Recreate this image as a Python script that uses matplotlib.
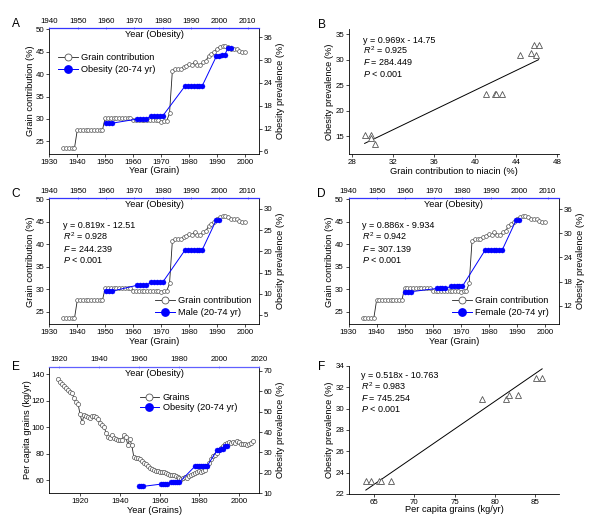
import matplotlib
matplotlib.use('Agg')
import matplotlib.pyplot as plt
from matplotlib.lines import Line2D

plt.rcParams['font.family'] = ['Liberation Sans', 'DejaVu Sans']
plt.rcParams['mathtext.fontset'] = 'custom'
plt.rcParams['mathtext.rm'] = 'Liberation Sans'
plt.rcParams['mathtext.it'] = 'Liberation Sans:italic'
plt.rcParams['axes.linewidth'] = 0.6

# ---------------- data ----------------
grain_years = list(range(1935, 2001))
grain_contrib = [23.5, 23.5, 23.5, 23.5, 23.5,
                 27.5, 27.5, 27.5, 27.5, 27.5, 27.5, 27.5, 27.5, 27.5, 27.5,
                 30.3, 30.3, 30.3, 30.3, 30.3, 30.3, 30.3, 30.3, 30.3, 30.3,
                 29.7, 29.7, 29.7, 29.7, 29.7, 29.7, 29.7, 29.7, 29.7, 29.7,
                 29.4, 29.6, 29.6, 31.3,
                 40.6, 41.1, 41.2, 41.1, 41.5, 41.8, 42.2, 42.0, 42.8, 42.1, 42.0, 42.6, 43.0,
                 44.0, 44.5, 45.0, 45.7, 46.0, 46.2, 46.3, 46.0, 45.6, 45.7, 45.6, 45.2, 45.0, 44.9]

ob_years = [1960, 1961, 1962, 1971, 1972, 1973, 1974, 1976, 1977, 1978, 1979, 1980,
            1988, 1989, 1990, 1991, 1992, 1993, 1994, 1999, 2000, 2001, 2002, 2003, 2004]
ob_total = [13.4, 13.4, 13.4, 14.5, 14.5, 14.5, 14.5, 15.3, 15.3, 15.3, 15.3, 15.3,
            23.3, 23.3, 23.3, 23.3, 23.3, 23.3, 23.3, 31.1, 31.1, 31.5, 31.5, 33.2, 33.2]

sex_years = [1960, 1961, 1962, 1971, 1972, 1973, 1974, 1976, 1977, 1978, 1979, 1980,
             1988, 1989, 1990, 1991, 1992, 1993, 1994, 1999, 2000]
ob_male = [10.6, 10.6, 10.6, 12.0, 12.0, 12.0, 12.0, 12.7, 12.7, 12.7, 12.7, 12.7,
           20.4, 20.4, 20.4, 20.4, 20.4, 20.4, 20.4, 27.5, 27.5]
ob_female = [15.5, 15.5, 15.5, 16.3, 16.3, 16.3, 16.3, 16.8, 16.8, 16.8, 16.8, 16.8,
             25.8, 25.8, 25.8, 25.8, 25.8, 25.8, 25.8, 33.4, 33.4]

percap_years = list(range(1909, 2008))
percap_grains = [136.2, 134.4, 133.0, 131.4, 130.0, 128.0, 126.4, 125.6, 121.8, 118.8,
                 117.3, 109.7, 103.6, 109.2, 108.4, 108.0, 107.2, 108.4, 108.7, 107.7,
                 106.0, 103.0, 101.6, 100.4, 96.0, 92.8, 92.0, 94.0, 92.0, 91.0,
                 90.5, 90.0, 90.3, 94.0, 92.8, 86.5, 91.0, 86.5, 77.6, 76.9,
                 76.4, 75.6, 74.3, 73.3, 72.0, 70.6, 69.5, 68.3, 67.5, 67.0,
                 66.8, 66.3, 66.0, 65.8, 65.3, 64.7, 64.2, 64.0, 63.7, 63.2,
                 62.5, 61.7, 60.7, 61.7, 62.2, 61.7, 62.8, 63.5, 64.5, 65.2,
                 65.8, 66.5, 66.3, 66.5, 67.5, 70.5, 73.0, 76.0, 78.0, 79.0,
                 80.8, 82.5, 84.5, 85.8, 87.0, 88.0, 88.5, 88.0, 88.5, 87.7,
                 89.7, 88.5, 87.5, 87.2, 87.0, 86.8, 87.2, 88.2, 89.5]

b_x = [29.2, 29.8, 29.8, 30.25, 41.1, 41.9, 42.05, 42.6, 44.4, 45.5, 45.8, 45.95, 46.2]
b_y = [15.1, 15.1, 14.7, 13.5, 23.2, 23.2, 23.2, 23.2, 30.9, 31.3, 32.9, 31.0, 32.9]
b_coef = (0.969, -14.75)

f_x = [63.96, 64.6, 65.6, 65.8, 67.15, 78.4, 81.35, 81.8, 82.9, 85.1, 85.9]
f_y = [23.2, 23.2, 23.2, 23.2, 23.2, 30.9, 30.9, 31.25, 31.3, 32.9, 32.9]
f_coef = (0.518, -10.763)

# ---------------- style ----------------
W, H = 600, 528
fig = plt.figure(figsize=(6, 5.28), dpi=100)

TICK = 5.7
LAB = 6.7
EQ = 6.5
GREY = '#555555'
LINEG = '#222222'
BLUE = '#0000ff'


def px_rect(l, t, r, b):
    return [l / W, 1 - b / H, (r - l) / W, (b - t) / H]


def ticks(ax, which, **kw):
    base = dict(labelsize=TICK, length=2, width=0.5, pad=1.5, direction='out')
    base.update(kw)
    ax.tick_params(axis=which, **base)


def dual(rect, gx, gy, gxlim, gylim, gxticks, gyticks,
         ox, oy, oxlim, oxticks, oylim, oyticks,
         gxlabel, gylabel, glabel, olabel, leg_xy, leg_ls, gms, topcol, yl_off=14.7):
    ax = fig.add_axes(rect)
    ax2 = ax.twinx()
    ax3 = ax2.twiny()
    ax.plot(gx, gy, '-o', color=LINEG, lw=0.6, ms=gms, mfc='white', mec=GREY,
            mew=0.5, zorder=3)
    ax3.plot(ox, oy, '-o', color=BLUE, lw=0.7, ms=3.6, mfc=BLUE, mec=BLUE, mew=0.3)
    ax.set_xlim(gxlim)
    ax.set_ylim(gylim)
    ax.set_xticks(gxticks)
    ax.set_yticks(gyticks)
    ax2.set_ylim(oylim)
    ax2.set_yticks(oyticks)
    ax3.set_xlim(oxlim)
    ax3.set_xticks(oxticks)
    for s in ['top', 'right']:
        ax.spines[s].set_visible(False)
    for s in ['top', 'left', 'bottom']:
        ax2.spines[s].set_visible(False)
    for s in ['left', 'right', 'bottom']:
        ax3.spines[s].set_visible(False)
    ax3.spines['top'].set_color(topcol)
    ax3.spines['top'].set_linewidth(0.9)
    ticks(ax, 'x', top=False)
    ticks(ax, 'y', right=False)
    ticks(ax2, 'y')
    ticks(ax3, 'x', direction='inout', color=topcol, labelcolor='black', pad=1.5)
    ax.set_xlabel(gxlabel, fontsize=LAB)
    ax.set_ylabel(gylabel, fontsize=LAB)
    ax2.set_ylabel('Obesity prevalence (%)', fontsize=LAB)
    aw = rect[2] * W
    ah = rect[3] * H
    ax.xaxis.set_label_coords(0.5, -12.3 / ah)
    ax.yaxis.set_label_coords(-yl_off / aw, 0.5)
    ax2.yaxis.set_label_coords(1 + 17.3 / aw, 0.5)
    ax3.text(0.5, 1 - 6.3 / ah, 'Year (Obesity)', transform=ax3.transAxes,
             ha='center', va='center', fontsize=LAB)
    h1 = Line2D([], [], color=LINEG, lw=0.6, marker='o', ms=5, mfc='white',
                mec=GREY, mew=0.6)
    h2 = Line2D([], [], color=BLUE, lw=0.7, marker='o', ms=5.3, mfc=BLUE, mec=BLUE)
    ax3.legend([h1, h2], [glabel, olabel], loc='center left',
               bbox_to_anchor=(leg_xy[0] / W, 1 - leg_xy[1] / H),
               bbox_transform=fig.transFigure, frameon=False, fontsize=LAB,
               handlelength=2.1, handletextpad=0.4, labelspacing=leg_ls,
               borderpad=0, borderaxespad=0)
    return ax, ax2, ax3


def scatter(rect, xs, ys, coef, xlim, ylim, xticks, yticks, xlabel, ylabel, xl_off):
    ax = fig.add_axes(rect)
    lx = [min(xs), max(xs)]
    ax.plot(lx, [coef[0] * v + coef[1] for v in lx], color='black', lw=0.7)
    ax.plot(xs, ys, linestyle='none', marker='^', ms=4.8, mfc='white', mec=GREY,
            mew=0.6, zorder=3)
    ax.set_xlim(xlim)
    ax.set_ylim(ylim)
    ax.set_xticks(xticks)
    ax.set_yticks(yticks)
    for s in ['top', 'right']:
        ax.spines[s].set_visible(False)
    ticks(ax, 'both')
    ax.set_xlabel(xlabel, fontsize=LAB)
    ax.set_ylabel(ylabel, fontsize=LAB)
    aw = rect[2] * W
    ah = rect[3] * H
    ax.xaxis.set_label_coords(0.5, -xl_off / ah)
    ax.yaxis.set_label_coords(-15.6 / aw, 0.5)
    return ax


def eq_text(x, ys, lines):
    for y, s in zip(ys, lines):
        fig.text(x / W, 1 - y / H, s, ha='left', va='baseline', fontsize=EQ)


# ---------------- Panel A ----------------
dual(px_rect(49.3, 28.3, 259, 154), grain_years, grain_contrib, (1930, 2005), (22.2, 50.2),
     list(range(1930, 2001, 10)), [25, 30, 35, 40, 45, 50],
     ob_years, ob_total, (1940, 2014), list(range(1940, 2011, 10)), (5.3, 38.4),
     [6, 12, 18, 24, 30, 36], 'Year (Grain)', 'Grain contribution (%)',
     'Grain contribution', 'Obesity (20-74 yr)', (58, 63.5), 0.3, 2.7, '#3535ff')

# ---------------- Panel C ----------------
dual(px_rect(49.3, 198.3, 259, 324.3), grain_years, grain_contrib, (1930, 2005), (22.2, 50.2),
     list(range(1930, 2001, 10)), [25, 30, 35, 40, 45, 50],
     sex_years, ob_male, (1940, 2014), list(range(1940, 2011, 10)), (2.8, 32.5),
     [5, 10, 15, 20, 25, 30], 'Year (Grain)', 'Grain contribution (%)',
     'Grain contribution', 'Male (20-74 yr)', (155, 306.7), 0.3, 2.7, '#3535ff')

# ---------------- Panel D ----------------
dual(px_rect(348.5, 198.3, 559, 324.3), grain_years, grain_contrib, (1930, 2005), (22.2, 50.2),
     list(range(1930, 2001, 10)), [25, 30, 35, 40, 45, 50],
     sex_years, ob_female, (1940, 2014), list(range(1940, 2011, 10)), (7.4, 38.7),
     [12, 18, 24, 30, 36], 'Year (Grain)', 'Grain contribution (%)',
     'Grain contribution', 'Female (20-74 yr)', (452, 306.7), 0.3, 2.7, '#3535ff')

# ---------------- Panel E ----------------
dual(px_rect(49.3, 366.7, 259, 493.3), percap_years, percap_grains, (1904.5, 2010), (50, 145.8),
     list(range(1920, 2001, 20)), [60, 80, 100, 120, 140],
     ob_years, ob_total, (1915, 2020), list(range(1920, 2021, 20)), (10, 72),
     [10, 20, 30, 40, 50, 60, 70], 'Year (Grains)', 'Per capita grains (kg/yr)',
     'Grains', 'Obesity (20-74 yr)', (139.5, 402.5), 0.1, 3.0, '#6060ff', yl_off=17.0)

# ---------------- Panel B ----------------
scatter(px_rect(349.3, 29.3, 559, 154.3), b_x, b_y, b_coef, (27.7, 48.2), (11.4, 36),
        [28, 32, 36, 40, 44, 48], [15, 20, 25, 30, 35],
        'Grain contribution to niacin (%)', 'Obesity prevalence (%)', 13.0)
eq_text(363.3, [42.7, 54.3, 65.3, 76.6],
        ['y = 0.969x - 14.75', r'$\mathit{R}^2$ = 0.925', r'$\mathit{F}$ = 284.449',
         r'$\mathit{P}$ < 0.001'])

# ---------------- Panel F ----------------
scatter(px_rect(349.3, 366, 559, 494), f_x, f_y, f_coef, (61.9, 88), (22, 34),
        [65, 70, 75, 80, 85], [22, 24, 26, 28, 30, 32, 34],
        'Per capita grains (kg/yr)', 'Obesity prevalence (%)', 10.7)
eq_text(360.7, [378.0, 389.7, 401.0, 412.5],
        ['y = 0.518x - 10.763', r'$\mathit{R}^2$ = 0.983', r'$\mathit{F}$ = 745.254',
         r'$\mathit{P}$ < 0.001'])

# equations in C and D
eq_text(63.3, [227.7, 240.2, 251.7, 263.0],
        ['y = 0.819x - 12.51', r'$\mathit{R}^2$ = 0.928', r'$\mathit{F}$ = 244.239',
         r'$\mathit{P}$ < 0.001'])
eq_text(361.7, [227.7, 240.2, 251.7, 263.0],
        ['y = 0.886x - 9.934', r'$\mathit{R}^2$ = 0.942', r'$\mathit{F}$ = 307.139',
         r'$\mathit{P}$ < 0.001'])

# panel letters
for letter, x, y in [('A', 16, 27.3), ('B', 321.7, 28.2), ('C', 16, 197),
                     ('D', 321.5, 197.3), ('E', 16, 370.3), ('F', 321.5, 370.3)]:
    fig.text(x / W, 1 - y / H, letter, ha='center', va='baseline', fontsize=8.6)

fig.savefig('out.png', dpi=100)
